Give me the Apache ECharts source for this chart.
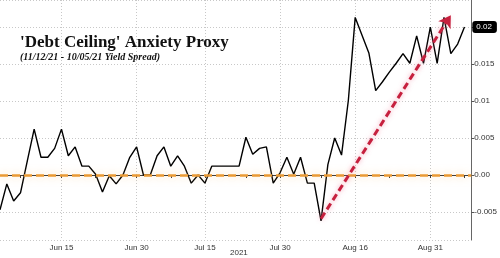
<!DOCTYPE html>
<html><head><meta charset="utf-8">
<script src="https://cdn.jsdelivr.net/npm/echarts@6/dist/echarts.min.js"></script>
<style>html,body{margin:0;padding:0;background:#fff}#c{width:500px;height:258px}</style>
</head><body><div id="c"></div>
<script>
var categories = [
 'Jun 2','Jun 3','Jun 4','Jun 7','Jun 8','Jun 9','Jun 10','Jun 11','Jun 14','Jun 15','Jun 16','Jun 17','Jun 18','Jun 21','Jun 22','Jun 23','Jun 24','Jun 25','Jun 28','Jun 29','Jun 30',
 'Jul 1','Jul 2','Jul 6','Jul 7','Jul 8','Jul 9','Jul 12','Jul 13','Jul 14','Jul 15','Jul 16','Jul 19','Jul 20','Jul 21','Jul 22','Jul 23','Jul 26','Jul 27','Jul 28','Jul 29','Jul 30',
 'Aug 2','Aug 3','Aug 4','Aug 5','Aug 6','Aug 9','Aug 10','Aug 11','Aug 12','Aug 13','Aug 16','Aug 17','Aug 18','Aug 19','Aug 20','Aug 23','Aug 24','Aug 25','Aug 26','Aug 27','Aug 30','Aug 31',
 'Sep 1','Sep 2','Sep 3','Sep 7','Sep 8','Sep 9'];
var spread = [
 -0.0047,-0.0012,-0.0035,-0.0024,0.0019,0.0062,0.0024,0.0024,0.0036,0.0062,0.0026,0.0038,0.0012,0.0012,0.0001,-0.0023,-0.0001,-0.0012,0.0000,0.0024,0.0038,
 0.0000,0.0000,0.0026,0.0038,0.0012,0.0026,0.0012,-0.0011,0.0000,-0.0011,0.0012,0.0012,0.0012,0.0012,0.0012,0.0051,0.0028,0.0036,0.0038,-0.0011,0.0003,
 0.0024,0.0001,0.0024,-0.0011,-0.0011,-0.0062,0.0014,0.0050,0.0027,0.0101,0.0213,0.0189,0.0165,0.0114,0.0126,0.0139,0.0151,0.0164,0.0151,0.0188,0.0151,0.0200,
 0.0151,0.0213,0.0164,0.0177,0.0200,null];
var labelDays = ['Jun 15','Jun 30','Jul 15','Jul 30','Aug 16','Aug 31'];
var tickDays = ['Jun 7','Jun 15','Jun 22','Jun 30','Jul 8','Jul 15','Jul 23','Jul 30','Aug 9','Aug 16','Aug 23','Aug 31','Sep 8'];
var lastValue = 0.02;
var zeroLevel = 0;
var arrowStart = ['Aug 9', -0.0059];
var arrowEnd = ['Sep 3', 0.0216];
var yMin = -0.00878, yMax = 0.02365;
var titleText = "'Debt Ceiling' Anxiety Proxy";
var subText = "(11/12/21 - 10/05/21 Yield Spread)";
var yearLabel = '2021';

var chart = echarts.init(document.getElementById('c'));
var gridLine = {show:true, lineStyle:{color:'#c8c8c8', type:[1,2], width:1}};
chart.setOption({
  animation:false,
  backgroundColor:'#fff',
  title:{
    text:titleText, subtext:subText, left:15, top:29, itemGap:1,
    textStyle:{fontFamily:'Liberation Serif', fontWeight:'bold', fontSize:17, color:'#111'},
    subtextStyle:{fontFamily:'Liberation Serif', fontWeight:'bold', fontStyle:'italic', fontSize:10, color:'#111'}
  },
  grid:{left:0, right:26, top:0, bottom:18, containLabel:false},
  xAxis:{
    type:'category', data:categories, boundaryGap:false,
    axisLine:{lineStyle:{color:'#333', width:1}},
    axisTick:{show:true, length:3, lineStyle:{color:'#333'}, interval:function(i,v){return tickDays.indexOf(v)>=0;}},
    axisLabel:{interval:function(i,v){return labelDays.indexOf(v)>=0;}, fontFamily:'Liberation Sans', fontSize:8, color:'#333', margin:4},
    splitLine:{show:true, interval:function(i,v){return labelDays.indexOf(v)>=0;}, lineStyle:{color:'#c8c8c8', type:[1,2], width:1}}
  },
  yAxis:{
    type:'value', position:'right', min:yMin, max:yMax, splitNumber:6,
    axisLine:{show:true, lineStyle:{color:'#666', width:1}},
    axisTick:{show:true, length:3, lineStyle:{color:'#555'}},
    axisLabel:{showMinLabel:false, showMaxLabel:false, fontFamily:'Liberation Sans', fontSize:8, color:'#333', margin:3,
      formatter:function(v){ if(Math.abs(v)<1e-9) return '0.00'; return String(+v.toFixed(4)); }},
    splitLine:gridLine
  },
  series:[
    {type:'line', data:spread, symbol:'none', z:3,
     lineStyle:{color:'#000', width:1.4},
     markLine:{silent:true, symbol:'none', animation:false,
       data:[
         {yAxis:zeroLevel, lineStyle:{color:'#EA9A35', type:[8,4], width:2.5, shadowColor:'rgba(250,190,110,0.6)', shadowBlur:8}, label:{show:false}},
         {yAxis:lastValue, lineStyle:{color:'rgba(0,0,0,0)', width:0}, label:{show:true, position:'end', distance:1, formatter:'0.02', backgroundColor:'#000', color:'#fff', padding:[2,5,2,4], borderRadius:3, fontFamily:'Liberation Sans', fontSize:8}}
       ]}
    },
    {type:'line', data:[], z:4,
     markLine:{silent:true, animation:false, symbol:['none','arrow'], symbolSize:[11,12],
       lineStyle:{color:'#C6203E', type:[7,4], width:3, shadowColor:'rgba(240,120,150,0.7)', shadowBlur:5},
       label:{show:false},
       data:[[{coord:arrowStart}, {coord:arrowEnd}]]}
    }
  ],
  graphic:[
    {type:'text', left:230, top:249, style:{text:yearLabel, fontFamily:'Liberation Sans', fontSize:8, fill:'#333'}}
  ]
});
</script></body></html>
